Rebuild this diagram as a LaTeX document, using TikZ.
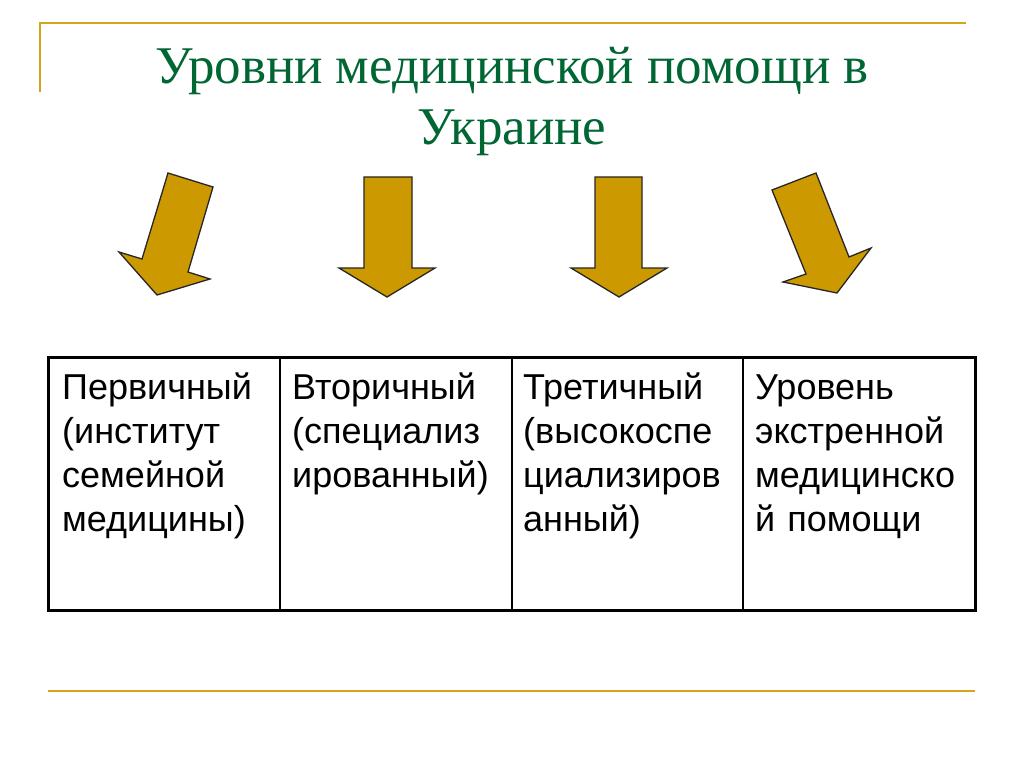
\documentclass[tikz,border=0pt]{standalone}
\usepackage{fontspec}
\setmainfont{Liberation Serif}
\setsansfont{Liberation Sans}
\usepackage{tikz}
\usetikzlibrary{positioning}
\definecolor{titlegreen}{RGB}{0,102,51}
\definecolor{arrowgold}{RGB}{204,153,0}
\definecolor{rulegold}{RGB}{214,164,28}

\begin{document}
\begin{tikzpicture}[x = 1pt, y = -1pt,
  cell/.style = {anchor = base west, inner sep = 0pt, text width = 225pt, align = left, font = \sffamily\fontsize{36}{44}\selectfont},
  bigarrow/.style = {fill = arrowgold, draw = black!85, line width = 1.3pt, line join = miter}]
\useasboundingbox (0,0) rectangle (1024,767);
\fill[white] (0,0) rectangle (1024,767);
\draw[rulegold, line width = 2.5pt] (40,92) -- (40,23) -- (966,23);
\draw[rulegold, line width = 2.5pt] (48,691) -- (975,691);
\node(title) at (512,102) [align = center, text = titlegreen, font = \fontsize{53}{61}\selectfont] {Уровни медицинской помощи в\\Украине};
\filldraw[bigarrow] (168,173) -- (213,187) -- (188,272) -- (210,279) -- (157,295) -- (119,252) -- (142,259) -- cycle;
\filldraw[bigarrow] (364,177) -- (412,177) -- (412,268) -- (435,268) -- (387,297) -- (339,268) -- (364,268) -- cycle;
\filldraw[bigarrow] (595,177) -- (642,177) -- (642,268) -- (667,268) -- (619,297) -- (571,268) -- (595,268) -- cycle;
\filldraw[bigarrow] (772,190) -- (816,173) -- (849,257) -- (871,248) -- (837,293) -- (783,282) -- (806,274) -- cycle;
\draw[line width = 1.5pt] (280,357) -- (280,610) (512,357) -- (512,610) (743,357) -- (743,610);
\draw[line width = 3pt] (48,357) rectangle (975,610);
\node(c1) at (62,399) [cell] {Первичный\\(институт\\семейной\\медицины)};
\node(c2) at (292,399) [cell] {Вторичный\\(специализ\\ированный)};
\node(c3) at (523,399) [cell] {Третичный\\(высокоспе\\циализиров\\анный)};
\node(c4) at (755,399) [cell] {Уровень\\экстренной\\медицинско\\й помощи};
\end{tikzpicture}
\end{document}
